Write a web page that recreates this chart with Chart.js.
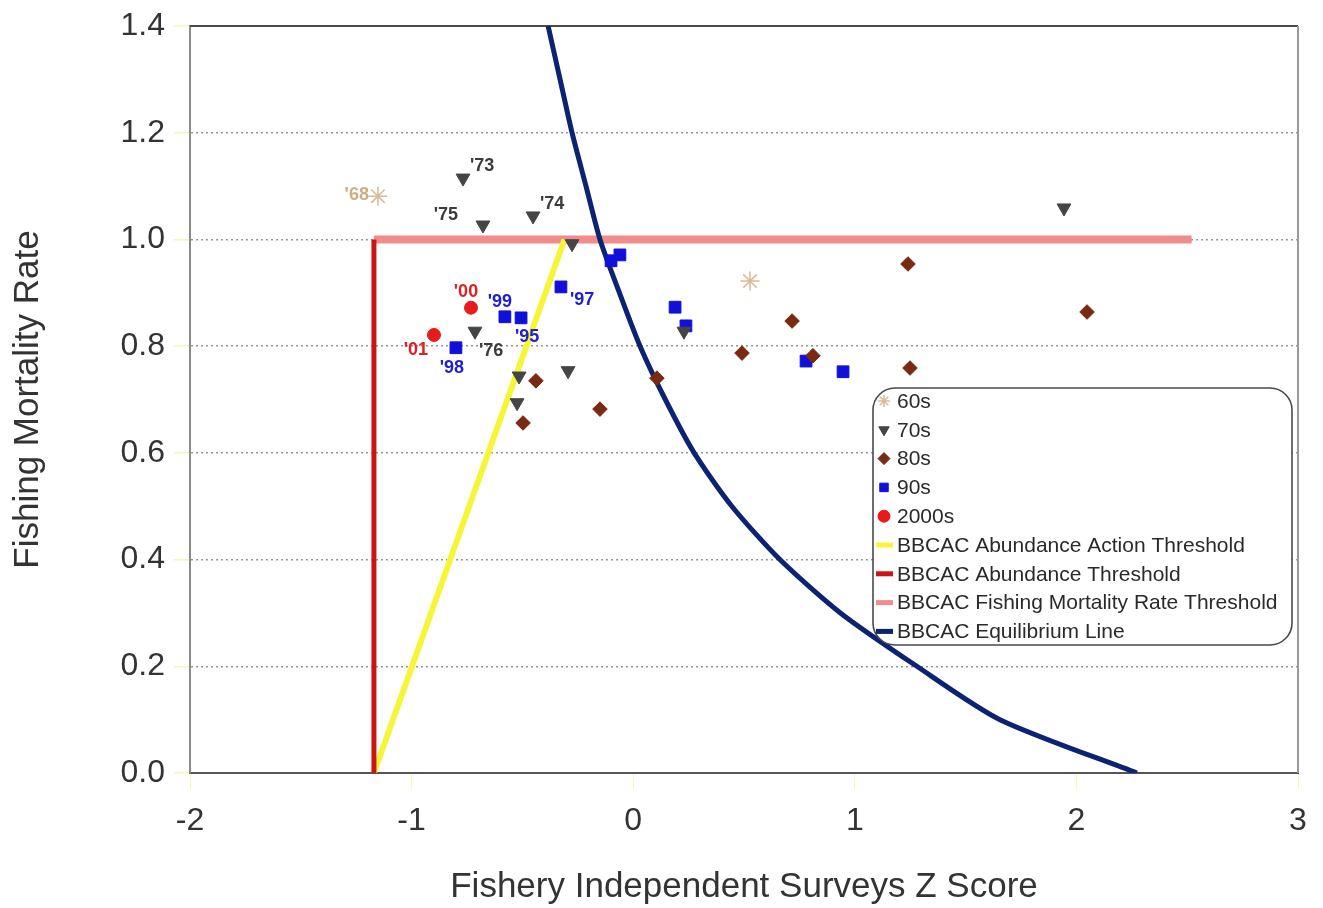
<!DOCTYPE html>
<html>
<head>
<meta charset="utf-8">
<title>BBCAC Fishing Mortality vs Abundance</title>
<script src="https://cdn.jsdelivr.net/npm/chart.js@4.4.1/dist/chart.umd.min.js"></script>
<style>
  html, body { margin: 0; padding: 0; background: #ffffff; }
  #wrap { width: 1323px; height: 908px; }
</style>
</head>
<body>
<div id="wrap"><canvas id="chart" width="1323" height="908"></canvas></div>
<script>
// ---- Data: survey Z score (x) against fishing mortality rate (y) ----
const x60s = [-1.152, 0.527];
const y60s = [1.081, 0.922];
const tags60s = ["'68", null];

const x70s = [-0.768, -0.678, -0.452, -0.276, 1.944, 0.229, -0.714, -0.515, -0.294, -0.524];
const y70s = [1.115, 1.027, 1.044, 0.992, 1.059, 0.828, 0.828, 0.744, 0.754, 0.694];
const tags70s = ["'73", "'75", "'74", null, null, null, "'76", null, null, null];

const x80s = [-0.439, -0.497, -0.150, 0.107, 0.491, 0.717, 0.811, 1.240, 1.249, 2.048];
const y80s = [0.735, 0.656, 0.682, 0.740, 0.787, 0.847, 0.782, 0.954, 0.759, 0.864];

const x90s = [-0.800, -0.579, -0.506, -0.326, -0.100, -0.060, 0.189, 0.238, 0.780, 0.947];
const y90s = [0.797, 0.855, 0.853, 0.911, 0.960, 0.971, 0.873, 0.838, 0.772, 0.752];
const tags90s = ["'98", "'99", "'95", "'97", null, null, null, null, null, null];

const x2000s = [-0.732, -0.899];
const y2000s = [0.872, 0.821];
const tags2000s = ["'00", "'01"];

// Reference lines
const actionX = [-1.17, -0.31];
const actionY = [0.0, 1.0];
const abundanceX = [-1.17, -1.17];
const abundanceY = [0.0, 1.0];
const mortalityX = [-1.17, 2.52];
const mortalityY = [1.0, 1.0];
const equilibriumX = [-0.384, -0.330, -0.276, -0.213, -0.150, -0.062, 0.031, 0.145, 0.275, 0.445, 0.662, 0.935, 1.280, 1.655, 2.273];
const equilibriumY = [1.4, 1.3, 1.2, 1.1, 1.0, 0.9, 0.8, 0.7, 0.6, 0.5, 0.4, 0.3, 0.2, 0.1, 0.0];

// Axis tick labels
const xTickLabels = ['-2', '-1', '0', '1', '2', '3'];
const yTickLabels = ['0.0', '0.2', '0.4', '0.6', '0.8', '1.0', '1.2', '1.4'];

// ---- Styling ----
const FONT = "'Liberation Sans', Arial, Helvetica, sans-serif";
Chart.defaults.font.family = FONT;

function pts(xs, ys, tags) {
  return xs.map((x, i) => ({ x: x, y: ys[i], tag: tags ? tags[i] : null }));
}

// where each year tag sits relative to its marker (pixels)
const tagPlacement = {
  "'68": { dx: -9, dy: -1, align: 'right' },
  "'73": { dx: 7, dy: -12, align: 'left' },
  "'75": { dx: -25, dy: -10, align: 'right' },
  "'74": { dx: 7, dy: -12, align: 'left' },
  "'76": { dx: 4, dy: 20, align: 'left' },
  "'98": { dx: -4, dy: 20, align: 'center' },
  "'99": { dx: -5, dy: -15, align: 'center' },
  "'95": { dx: -6, dy: 19, align: 'left' },
  "'97": { dx: 9, dy: 13, align: 'left' },
  "'00": { dx: -5, dy: -16, align: 'center' },
  "'01": { dx: -6, dy: 15, align: 'right' }
};

function scatterSet(label, data, style, color, radius, rotation, tagColor, extra) {
  return Object.assign({
    label: label,
    data: data,
    showLine: false,
    pointStyle: style,
    pointRotation: rotation || 0,
    pointRadius: radius,
    pointHoverRadius: radius,
    backgroundColor: color,
    borderColor: color,
    pointBorderWidth: 1,
    tagColor: tagColor,
    order: 0
  }, extra || {});
}

function lineSet(label, data, color, width, order, tension) {
  return {
    label: label,
    data: data,
    showLine: true,
    borderColor: color,
    backgroundColor: color,
    borderWidth: width,
    pointRadius: 0,
    pointHoverRadius: 0,
    tension: tension || 0,
    fill: false,
    order: order,
    borderCapStyle: 'butt',
    borderJoinStyle: 'round'
  };
}

const datasets = [
  scatterSet('60s', pts(x60s, y60s, tags60s), 'star', '#d8bc98', 9.5, 0, '#cfae86', { pointBorderWidth: 1.6 }),
  scatterSet('70s', pts(x70s, y70s, tags70s), 'triangle', '#454545', 8, 180, '#3c3c3c'),
  scatterSet('80s', pts(x80s, y80s), 'rectRot', '#7a2a10', 7.3, 0, '#7a2a10'),
  scatterSet('90s', pts(x90s, y90s, tags90s), 'rect', '#1010d8', 8.3, 0, '#2020d0'),
  scatterSet('2000s', pts(x2000s, y2000s, tags2000s), 'circle', '#e81a1a', 6.5, 0, '#e02020'),
  lineSet('BBCAC Abundance Action Threshold', pts(actionX, actionY), '#f7f53a', 6, 3),
  lineSet('BBCAC Abundance Threshold', pts(abundanceX, abundanceY), '#cc1414', 5, 2),
  lineSet('BBCAC Fishing Mortality Rate Threshold', pts(mortalityX, mortalityY), '#f28c8c', 8, 4),
  lineSet('BBCAC Equilibrium Line', pts(equilibriumX, equilibriumY), '#0c2272', 5, 1, 0.25)
];

// Frame lines on the top and right of the plot area
const framePlugin = {
  id: 'frame',
  beforeDatasetsDraw(chart) {
    const { ctx, chartArea: a } = chart;
    ctx.save();
    ctx.lineWidth = 2;
    ctx.strokeStyle = '#4a4a4a';
    ctx.beginPath();
    ctx.moveTo(a.left, a.top);
    ctx.lineTo(a.right, a.top);
    ctx.stroke();
    ctx.strokeStyle = '#9a9a9a';
    ctx.beginPath();
    ctx.moveTo(a.right, a.top);
    ctx.lineTo(a.right, a.bottom);
    ctx.stroke();
    ctx.restore();
  }
};

// Year tags next to selected markers
const tagPlugin = {
  id: 'yearTags',
  afterDatasetsDraw(chart) {
    const ctx = chart.ctx;
    ctx.save();
    ctx.font = 'bold 18px ' + FONT;
    ctx.textBaseline = 'middle';
    chart.data.datasets.forEach((ds, di) => {
      if (ds.showLine) return;
      const meta = chart.getDatasetMeta(di);
      ds.data.forEach((p, i) => {
        if (!p.tag) return;
        const el = meta.data[i];
        const place = tagPlacement[p.tag] || { dx: 6, dy: -12, align: 'left' };
        ctx.fillStyle = ds.tagColor;
        ctx.textAlign = place.align;
        ctx.fillText(p.tag, el.x + place.dx, el.y + place.dy);
      });
    });
    ctx.restore();
  }
};

// Rounded legend box inside the plot area
const boxLegendPlugin = {
  id: 'boxLegend',
  afterDatasetsDraw(chart, args, opts) {
    const ctx = chart.ctx;
    const b = opts.box;
    ctx.save();
    ctx.beginPath();
    ctx.moveTo(b.x + b.r, b.y);
    ctx.arcTo(b.x + b.w, b.y, b.x + b.w, b.y + b.h, b.r);
    ctx.arcTo(b.x + b.w, b.y + b.h, b.x, b.y + b.h, b.r);
    ctx.arcTo(b.x, b.y + b.h, b.x, b.y, b.r);
    ctx.arcTo(b.x, b.y, b.x + b.w, b.y, b.r);
    ctx.closePath();
    ctx.fillStyle = '#ffffff';
    ctx.fill();
    ctx.lineWidth = 1.6;
    ctx.strokeStyle = '#4a4a4a';
    ctx.stroke();

    ctx.font = opts.fontSize + 'px ' + FONT;
    ctx.textBaseline = 'middle';
    ctx.textAlign = 'left';
    chart.data.datasets.forEach((ds, i) => {
      const cy = opts.firstY + i * opts.step;
      const mx = opts.markerX;
      if (ds.showLine) {
        ctx.fillStyle = ds.borderColor;
        ctx.fillRect(mx - 8, cy - 2.5, 17, 5);
      } else {
        ctx.fillStyle = ds.backgroundColor;
        ctx.strokeStyle = ds.borderColor;
        ctx.lineWidth = ds.pointBorderWidth || 1;
        Chart.helpers.drawPoint(ctx, {
          pointStyle: ds.pointStyle,
          rotation: ds.pointRotation,
          radius: opts.markerRadius,
          borderWidth: ds.pointBorderWidth || 1
        }, mx, cy);
      }
      ctx.fillStyle = '#2a2a2a';
      ctx.fillText(ds.label, opts.textX, cy + 1);
    });
    ctx.restore();
  }
};

new Chart(document.getElementById('chart'), {
  type: 'scatter',
  data: { datasets: datasets },
  plugins: [framePlugin, tagPlugin, boxLegendPlugin],
  options: {
    responsive: false,
    animation: false,
    events: [],
    layout: { padding: { top: 26, right: 25, left: 0, bottom: 0 } },
    plugins: {
      legend: { display: false },
      tooltip: { enabled: false },
      boxLegend: {
        box: { x: 873, y: 388, w: 419, h: 257, r: 22 },
        firstY: 401, step: 28.8, markerX: 884, textX: 897, fontSize: 21, markerRadius: 6
      }
    },
    scales: {
      x: {
        type: 'linear',
        min: -2, max: 3,
        afterFit(scale) { scale.height = 135; },
        ticks: {
          stepSize: 1,
          padding: 16,
          color: '#333333',
          font: { size: 32, lineHeight: 1.0 },
          callback: (v, i) => xTickLabels[i]
        },
        grid: { drawOnChartArea: false, tickColor: 'rgba(238,238,120,0.55)', tickLength: 16 },
        border: { color: '#555555', width: 2 },
        title: {
          display: true,
          text: 'Fishery Independent Surveys Z Score',
          color: '#333333',
          font: { size: 35 },
          padding: { top: 0, bottom: 0 }
        }
      },
      y: {
        type: 'linear',
        min: 0, max: 1.4,
        afterFit(scale) { scale.width = 190; },
        ticks: {
          stepSize: 0.2,
          padding: 9,
          color: '#333333',
          font: { size: 32, lineHeight: 1.0 },
          callback: (v, i) => yTickLabels[i]
        },
        grid: {
          color: (c) => (c.index === 0 || c.index === 7) ? 'rgba(0,0,0,0)' : '#959595',
          lineWidth: 1.5,
          tickColor: 'rgba(238,238,120,0.55)',
          tickLength: 16,
          tickBorderDash: []
        },
        border: { color: '#8a8a8a', width: 2, dash: [2, 3] },
        title: {
          display: true,
          text: 'Fishing Mortality Rate',
          color: '#333333',
          font: { size: 35 },
          padding: { top: 7, bottom: 0 }
        }
      }
    }
  }
});
</script>
</body>
</html>
